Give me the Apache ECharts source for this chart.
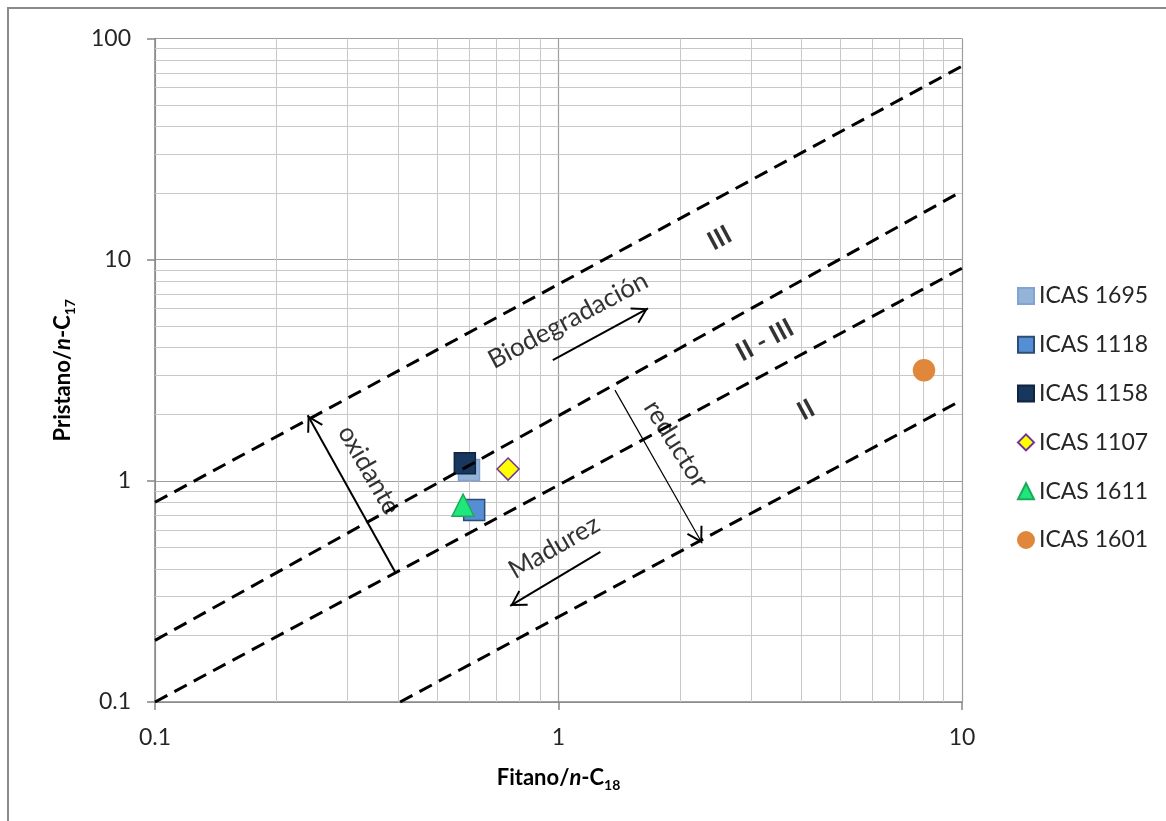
<!DOCTYPE html>
<html><head><meta charset="utf-8">
<script src="https://cdn.jsdelivr.net/npm/echarts@6/dist/echarts.min.js"></script>
<style>html,body{margin:0;padding:0;background:#fff}#c{width:1166px;height:821px}</style>
</head><body><div id="c"></div>
<script>
// ---- data ----
const seriesNames = ['ICAS 1695','ICAS 1118','ICAS 1158','ICAS 1107','ICAS 1611','ICAS 1601'];
const fitanoC18   = [0.60, 0.618, 0.586, 0.75, 0.58, 8.05];
const pristanoC17 = [1.12, 0.738, 1.20, 1.13, 0.776, 3.16];
const seriesSymbols = ['rect','rect','rect','diamond','triangle','circle'];
const seriesFills   = ['#95b3d7','#558ed5','#17375e','#ffff00','#1ee87c','#e0873c'];
const seriesBorders = ['#7fa3d3','#2c4d75','#0f2440','#7030a0','#1ea85a','#e0873c'];
const seriesSizes   = [21, 21, 21, 22, 22, 21];

// dashed boundary lines (start, end) in data units
const line1 = [[0.1, 0.80], [10, 75]];
const line2 = [[0.1, 0.19], [10, 20.4]];
const line3 = [[0.1, 0.1], [10, 9.15]];
const line4 = [[0.405, 0.1], [10, 2.32]];

// arrows (tail -> head)
const arrowOxidante = [[0.394, 0.386], [0.239, 1.98]];
const arrowBiodeg   = [[0.968, 3.51], [1.667, 6.03]];
const arrowReductor = [[1.38, 2.57], [2.27, 0.522]];
const arrowMadurez  = [[1.27, 0.477], [0.759, 0.272]];

// annotation texts
const noteTexts = ['III', 'II - III', 'II', 'Biodegradación', 'oxidante', 'reductor', 'Madurez'];
const noteX     = [2.51, 3.25, 4.11, 1.056, 0.339, 1.955, 0.975];
const noteY     = [12.5, 4.32, 2.09, 5.32, 1.12, 1.466, 0.501];
const noteRot   = [28, 28, 28, 28, -60, -58, 30];

// minor grid values
const xMinor = [0.2,0.3,0.4,0.5,0.6,0.7,0.8,0.9,2,3,4,5,6,7,8,9];
const yMinor = [0.2,0.3,0.4,0.5,0.6,0.7,0.8,0.9,2,3,4,5,6,7,8,9,20,30,40,50,60,70,80,90];

// ---- chart ----
const FONT = 'Lato';
const chart = echarts.init(document.getElementById('c'), null, {renderer: 'canvas'});

// open chevron whose tip sits at the centre of a 20x20 box (tiny specks pin the box corners)
const arrowSym = 'path://M0,0 L0.01,0 L0,0.01 Z M20,0 L19.99,0 L20,0.01 Z ' +
                 'M10,10 L15.6,19.4 L14.5,20 L10,12.3 L5.5,20 L4.4,19.4 Z';

function arrowMarkLine(seg, width) {
  return {
    silent: true, z: 6,
    symbol: ['none', arrowSym],
    symbolSize: 32,
    label: {show: false},
    lineStyle: {color: '#000', width: width, type: 'solid'},
    data: [[{coord: seg[0]}, {coord: seg[1]}]]
  };
}

const series = [];
series.push({
  type: 'line', name: '_grid', data: [], silent: true,
  markLine: {
    silent: true, z: 1, symbol: ['none','none'], label: {show: false},
    lineStyle: {color: '#c8c8c8', width: 1, type: 'solid'},
    data: xMinor.map(v => ({xAxis: v})).concat(yMinor.map(v => ({yAxis: v})))
  }
});
seriesNames.forEach((n, i) => {
  series.push({
    type: 'scatter', name: n, z: 3,
    symbol: seriesSymbols[i], symbolSize: seriesSizes[i],
    itemStyle: {color: seriesFills[i], borderColor: seriesBorders[i], borderWidth: 1.5, opacity: 1},
    data: [[fitanoC18[i], pristanoC17[i]]]
  });
});
[line1, line2, line3, line4].forEach((l, i) => {
  series.push({
    type: 'line', name: '_l' + i, data: l, symbol: 'none', silent: true, z: 4,
    lineStyle: {color: '#000', width: 3, type: [14, 8]}
  });
});
[[arrowOxidante, 2], [arrowBiodeg, 2], [arrowReductor, 1.2], [arrowMadurez, 2]].forEach((a, i) => {
  series.push({type: 'line', name: '_a' + i, data: [], silent: true, markLine: arrowMarkLine(a[0], a[1])});
});
series.push({
  type: 'scatter', name: '_notes', symbolSize: 0, silent: true, z: 6,
  data: noteTexts.map((t, i) => ({
    value: [noteX[i], noteY[i]],
    label: {
      show: true, formatter: t, position: 'inside', rotate: noteRot[i],
      fontFamily: FONT, fontSize: 26, fontWeight: (i < 3 ? 'bold' : 'normal'),
      color: '#000', align: 'center', verticalAlign: 'middle'
    }
  }))
});

const nameRich = {
  b: {fontFamily: FONT, fontWeight: 'bold', fontSize: 22, color: '#000', lineHeight: 28},
  i: {fontFamily: FONT, fontWeight: 'bold', fontStyle: 'italic', fontSize: 22, color: '#000', lineHeight: 28},
  s: {fontFamily: FONT, fontWeight: 'bold', fontSize: 14, color: '#000', lineHeight: 14, verticalAlign: 'bottom'}
};

const axisCommon = {
  type: 'log', logBase: 10,
  axisLine: {show: true, lineStyle: {color: '#868686', width: 1.5}},
  axisTick: {show: true, inside: false, length: 8, lineStyle: {color: '#868686', width: 1.5}},
  axisLabel: {fontFamily: FONT, fontSize: 23, color: '#262626'},
  splitLine: {show: true, lineStyle: {color: '#9e9e9e', width: 1.2}},
  minorTick: {show: false}, minorSplitLine: {show: false}
};

chart.setOption({
  animation: false,
  backgroundColor: '#fff',
  grid: {left: 155, right: 204, top: 38.5, bottom: 119, containLabel: false},
  xAxis: Object.assign({}, axisCommon, {
    min: 0.1, max: 10,
    axisLabel: Object.assign({}, axisCommon.axisLabel, {margin: 24}),
    name: '{b|Fitano/}{i|n}{b|-C}{s|18}',
    nameLocation: 'middle', nameGap: 62,
    nameTextStyle: {rich: nameRich}
  }),
  yAxis: Object.assign({}, axisCommon, {
    min: 0.1, max: 100,
    axisLabel: Object.assign({}, axisCommon.axisLabel, {margin: 24}),
    name: '{b|Pristano/}{i|n}{b|-C}{s|17}',
    nameLocation: 'middle', nameGap: 78, nameRotate: 90,
    nameTextStyle: {rich: nameRich}
  }),
  legend: {
    data: seriesNames.map((n, i) => ({name: n, icon: seriesSymbols[i]})),
    orient: 'vertical', left: 1017, top: 283, padding: 0,
    itemWidth: 16, itemHeight: 16, itemGap: 22.8,
    textStyle: {fontFamily: FONT, fontSize: 23, color: '#262626', lineHeight: 26},
    selectedMode: false
  },
  graphic: [{
    type: 'rect', silent: true, z: -1,
    shape: {x: 8, y: 8, width: 1400, height: 1000},
    style: {fill: 'none', stroke: '#8a8a8a', lineWidth: 2}
  }],
  series: series
});
</script>
</body></html>
